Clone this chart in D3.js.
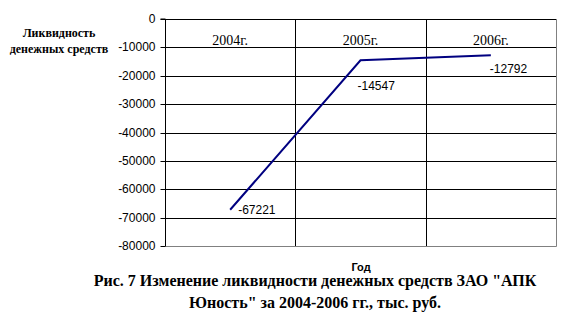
<!DOCTYPE html>
<html><head><meta charset="utf-8">
<script src="https://cdn.jsdelivr.net/npm/d3@7"></script>
<style>body{margin:0;background:#fff}svg{display:block}
.serif{font-family:"Liberation Serif","Times New Roman","DejaVu Serif",serif}
.sans{font-family:"Liberation Sans",Arial,sans-serif}
</style>
</head><body>
<svg id="c" width="572" height="331"></svg>
<script>
const categories = ["2004г.", "2005г.", "2006г."];
const values = [-67221, -14547, -12792];
const yTicks = [0, -10000, -20000, -30000, -40000, -50000, -60000, -70000, -80000];
const yTitle = ["Ликвидность", "денежных средств"];
const xTitle = "Год";
const caption = ["Рис. 7 Изменение ликвидности денежных средств ЗАО \"АПК", "Юность\" за 2004-2006 гг., тыс. руб."];
// label placement offsets (layout, px) relative to each point
const labelDX = [8, -3, -1];
const labelDY = [0, 26, 14];

const svg = d3.select("#c");
const L = 165, R = 556, T = 19, B = 246;
const x = d3.scaleBand().domain(categories).range([L, R]);
const y = d3.scaleLinear().domain([-80000, 0]).range([B, T]);

svg.append("g").selectAll("line").data(yTicks.filter(d => d !== -80000)).join("line")
  .attr("x1", L).attr("x2", R).attr("y1", d => Math.round(y(d)) + 0.5).attr("y2", d => Math.round(y(d)) + 0.5)
  .attr("stroke", "#000").attr("stroke-width", 1);
svg.append("g").selectAll("line").data(categories.slice(1)).join("line")
  .attr("x1", d => Math.round(x(d)) + 0.5).attr("x2", d => Math.round(x(d)) + 0.5)
  .attr("y1", T).attr("y2", B).attr("stroke", "#000");
svg.append("line").attr("x1", R + 0.5).attr("x2", R + 0.5).attr("y1", T).attr("y2", B + 0.5).attr("stroke", "#808080");
svg.append("line").attr("x1", L).attr("x2", R + 0.5).attr("y1", B + 0.5).attr("y2", B + 0.5).attr("stroke", "#808080");

const yAxis = d3.axisLeft(y).tickValues(yTicks).tickSize(5).tickPadding(5).tickFormat(d => String(d));
const gy = svg.append("g").attr("transform", `translate(${L + 0.5},0)`).call(yAxis);
gy.attr("font-family", null).attr("font-size", null).attr("class", "sans");
gy.select(".domain").attr("stroke", "#000").attr("d", `M-5,${T}H0V${B}`);
gy.selectAll(".tick line").attr("stroke", "#000");
gy.selectAll("text").attr("font-size", 12).attr("fill", "#000");
gy.selectAll(".tick").attr("transform", d => `translate(0,${Math.round(y(d)) + 0.5})`);

svg.append("g").attr("class", "serif").selectAll("text").data(categories).join("text")
  .attr("x", d => x(d) + x.bandwidth() / 2).attr("y", y(0) + 26)
  .attr("text-anchor", "middle").attr("font-size", 14).text(d => d);

const line = d3.line().x((d, i) => x(categories[i]) + x.bandwidth() / 2).y(d => y(d));
svg.append("path").datum(values).attr("d", line).attr("fill", "none").attr("stroke", "#000080").attr("stroke-width", 2);

svg.append("g").attr("class", "sans").selectAll("text").data(values).join("text")
  .attr("x", (d, i) => x(categories[i]) + x.bandwidth() / 2 + labelDX[i])
  .attr("y", (d, i) => y(d) + labelDY[i])
  .attr("dy", "0.35em").attr("font-size", 12).text(d => d);

svg.append("text").attr("class", "serif").attr("text-anchor", "middle").attr("font-weight", "bold").attr("font-size", 12)
  .selectAll("tspan").data(yTitle).join("tspan").attr("x", 59).attr("y", (d, i) => 37 + i * 16).text(d => d);

svg.append("text").attr("class", "sans").attr("x", 361).attr("y", 271).attr("text-anchor", "middle")
  .attr("font-weight", "bold").attr("font-size", 11).text(xTitle);

svg.append("text").attr("class", "serif").attr("text-anchor", "middle").attr("font-weight", "bold").attr("font-size", 16)
  .selectAll("tspan").data(caption).join("tspan").attr("x", 315).attr("y", (d, i) => 286 + i * 22).text(d => d);
</script>
</body></html>
